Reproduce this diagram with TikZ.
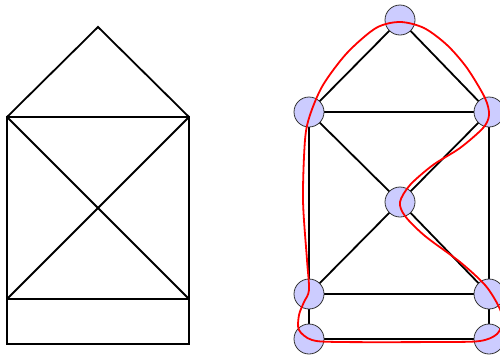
\documentclass[tikz,border=0pt]{standalone}
\begin{document}
\begin{tikzpicture}[x=1pt,y=-1pt,
  edge/.style={draw=black,line width=1.8pt},
  vert/.style={circle,draw=black!80,line width=0.8pt,fill={rgb,255:red,204;green,204;blue,255},minimum size=30pt,inner sep=0pt},
  ham/.style={draw=red,line width=1.8pt}]
\useasboundingbox (0,0) rectangle (500,354);
\begin{scope}
\clip (0,0) rectangle (500,354);
% left house
\coordinate (A) at (98,27);
\coordinate (B) at (7,117);
\coordinate (C) at (189,117);
\coordinate (D) at (7,299);
\coordinate (E) at (189,299);
\coordinate (F) at (7,344);
\coordinate (G) at (189,344);
\draw[edge,line join=miter] (B) -- (A) -- (C);
\draw[edge] (B) -- (C) -- (E) -- (D) -- cycle;
\draw[edge] (B) -- (E);
\draw[edge] (C) -- (D);
\draw[edge] (D) -- (F) -- (G) -- (E);
% right graph
\coordinate (t) at (400,20);
\coordinate (tl) at (309,112);
\coordinate (tr) at (489,112);
\coordinate (c) at (400,202);
\coordinate (bl) at (309,294);
\coordinate (br) at (489,294);
\coordinate (bbl) at (309,339);
\coordinate (bbr) at (489,339);
\draw[edge] (t) -- (tl) (t) -- (tr) (tl) -- (tr) (tl) -- (bl) (tr) -- (br)
  (tl) -- (c) (tr) -- (c) (c) -- (bl) (c) -- (br) (bl) -- (br)
  (bl) -- (bbl) (br) -- (bbr) (bbl) -- (bbr);
\foreach \n in {t,tl,tr,c,bl,br,bbl,bbr}
  \node[vert] (n\n) at (\n) {};
\draw[ham] plot[smooth cycle,tension=0.5] coordinates {
 (400,22) (424,28) (447,45) (467,68) (485,98) (489,115) (483,128) (460,148) (433,165)
 (410,185) (400,202) (405,216) (425,236) (460,262) (485,285) (498,305)
 (503,320) (497,334) (480,341) (440,342) (340,342) (312,340) (299,330)
 (299,315) (304,302) (309,290) (307,260) (303,200) (305,140) (310,115)
 (323,85) (347,53) (376,28)};
\end{scope}
\end{tikzpicture}
\end{document}
